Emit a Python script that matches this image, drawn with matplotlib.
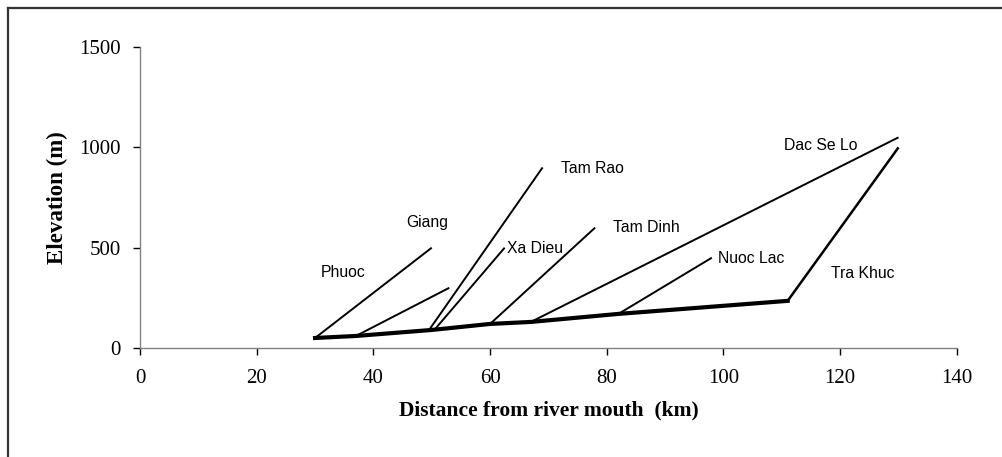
"""River long profile: main stem and tributaries of the Tra Khuc basin."""

import matplotlib
matplotlib.use("Agg")
import matplotlib.pyplot as plt
from matplotlib.lines import Line2D

# main stem (thick line), distance in km, elevation in m
main_km = [30, 37, 50, 60, 67, 82, 111]
main_elev = [50, 60, 90, 120, 130, 170, 235]

# tributaries: name, start km, start elev, end km, end elev
trib_names = ["Phuoc", "Giang", "Tam Rao", "Xa Dieu", "Tam Dinh", "Dac Se Lo", "Nuoc Lac", "Tra Khuc"]
trib_start_km = [30, 37, 49.5, 50.5, 60, 67, 82, 111]
trib_start_elev = [50, 60, 88, 92, 120, 130, 170, 235]
trib_end_km = [50, 53, 69, 62.5, 78, 130, 98, 130]
trib_end_elev = [500, 300, 900, 500, 600, 1050, 450, 1000]

# label anchors (left edge, vertical centre)
label_km = [31, 45.6, 72.1, 62.9, 81.0, 110.3, 99.0, 118.4]
label_elev = [374, 628, 897, 498, 603, 1011, 448, 369]

fig = plt.figure(figsize=(10.03, 4.57), dpi=100)
ax = fig.add_axes([0.1396, 0.2385, 0.8144, 0.6585])

for i, name in enumerate(trib_names):
    lw = 1.8 if name == "Tra Khuc" else 1.4
    ax.plot([trib_start_km[i], trib_end_km[i]], [trib_start_elev[i], trib_end_elev[i]],
            color="black", linewidth=lw, solid_capstyle="butt")
    ax.text(label_km[i], label_elev[i], name, fontsize=11.3, family="Liberation Sans",
            ha="left", va="center")

ax.plot(main_km, main_elev, color="black", linewidth=3.0, solid_joinstyle="miter")

ax.set_xlim(0, 140)
ax.set_ylim(0, 1500)
ax.set_xticks(range(0, 141, 20))
ax.set_yticks([0, 500, 1000, 1500])

for side in ("top", "right"):
    ax.spines[side].set_visible(False)
for side in ("left", "bottom"):
    ax.spines[side].set_color("#808080")
    ax.spines[side].set_linewidth(1.0)

ax.tick_params(direction="out", length=5, width=1.0, color="black")
ax.tick_params(axis="x", pad=10)
ax.tick_params(axis="y", pad=9)
for lab in ax.get_xticklabels() + ax.get_yticklabels():
    lab.set_family("Liberation Serif")
    lab.set_fontsize(15)

ax.set_xlabel("Distance from river mouth  (km)", family="Liberation Serif",
              fontweight="bold", fontsize=15.5, labelpad=9)
ax.set_ylabel("Elevation (m)", family="Liberation Serif", fontweight="bold",
              fontsize=16.5, labelpad=8)

# frame around the figure (top and left edges only are visible)
fig.add_artist(Line2D([8 / 1003, 1.0], [1 - 8 / 457, 1 - 8 / 457],
                      transform=fig.transFigure, color="#333333", linewidth=1.6))
fig.add_artist(Line2D([8 / 1003, 8 / 1003], [0.0, 1 - 8 / 457],
                      transform=fig.transFigure, color="#333333", linewidth=1.6))

fig.savefig("out.png", dpi=100)
